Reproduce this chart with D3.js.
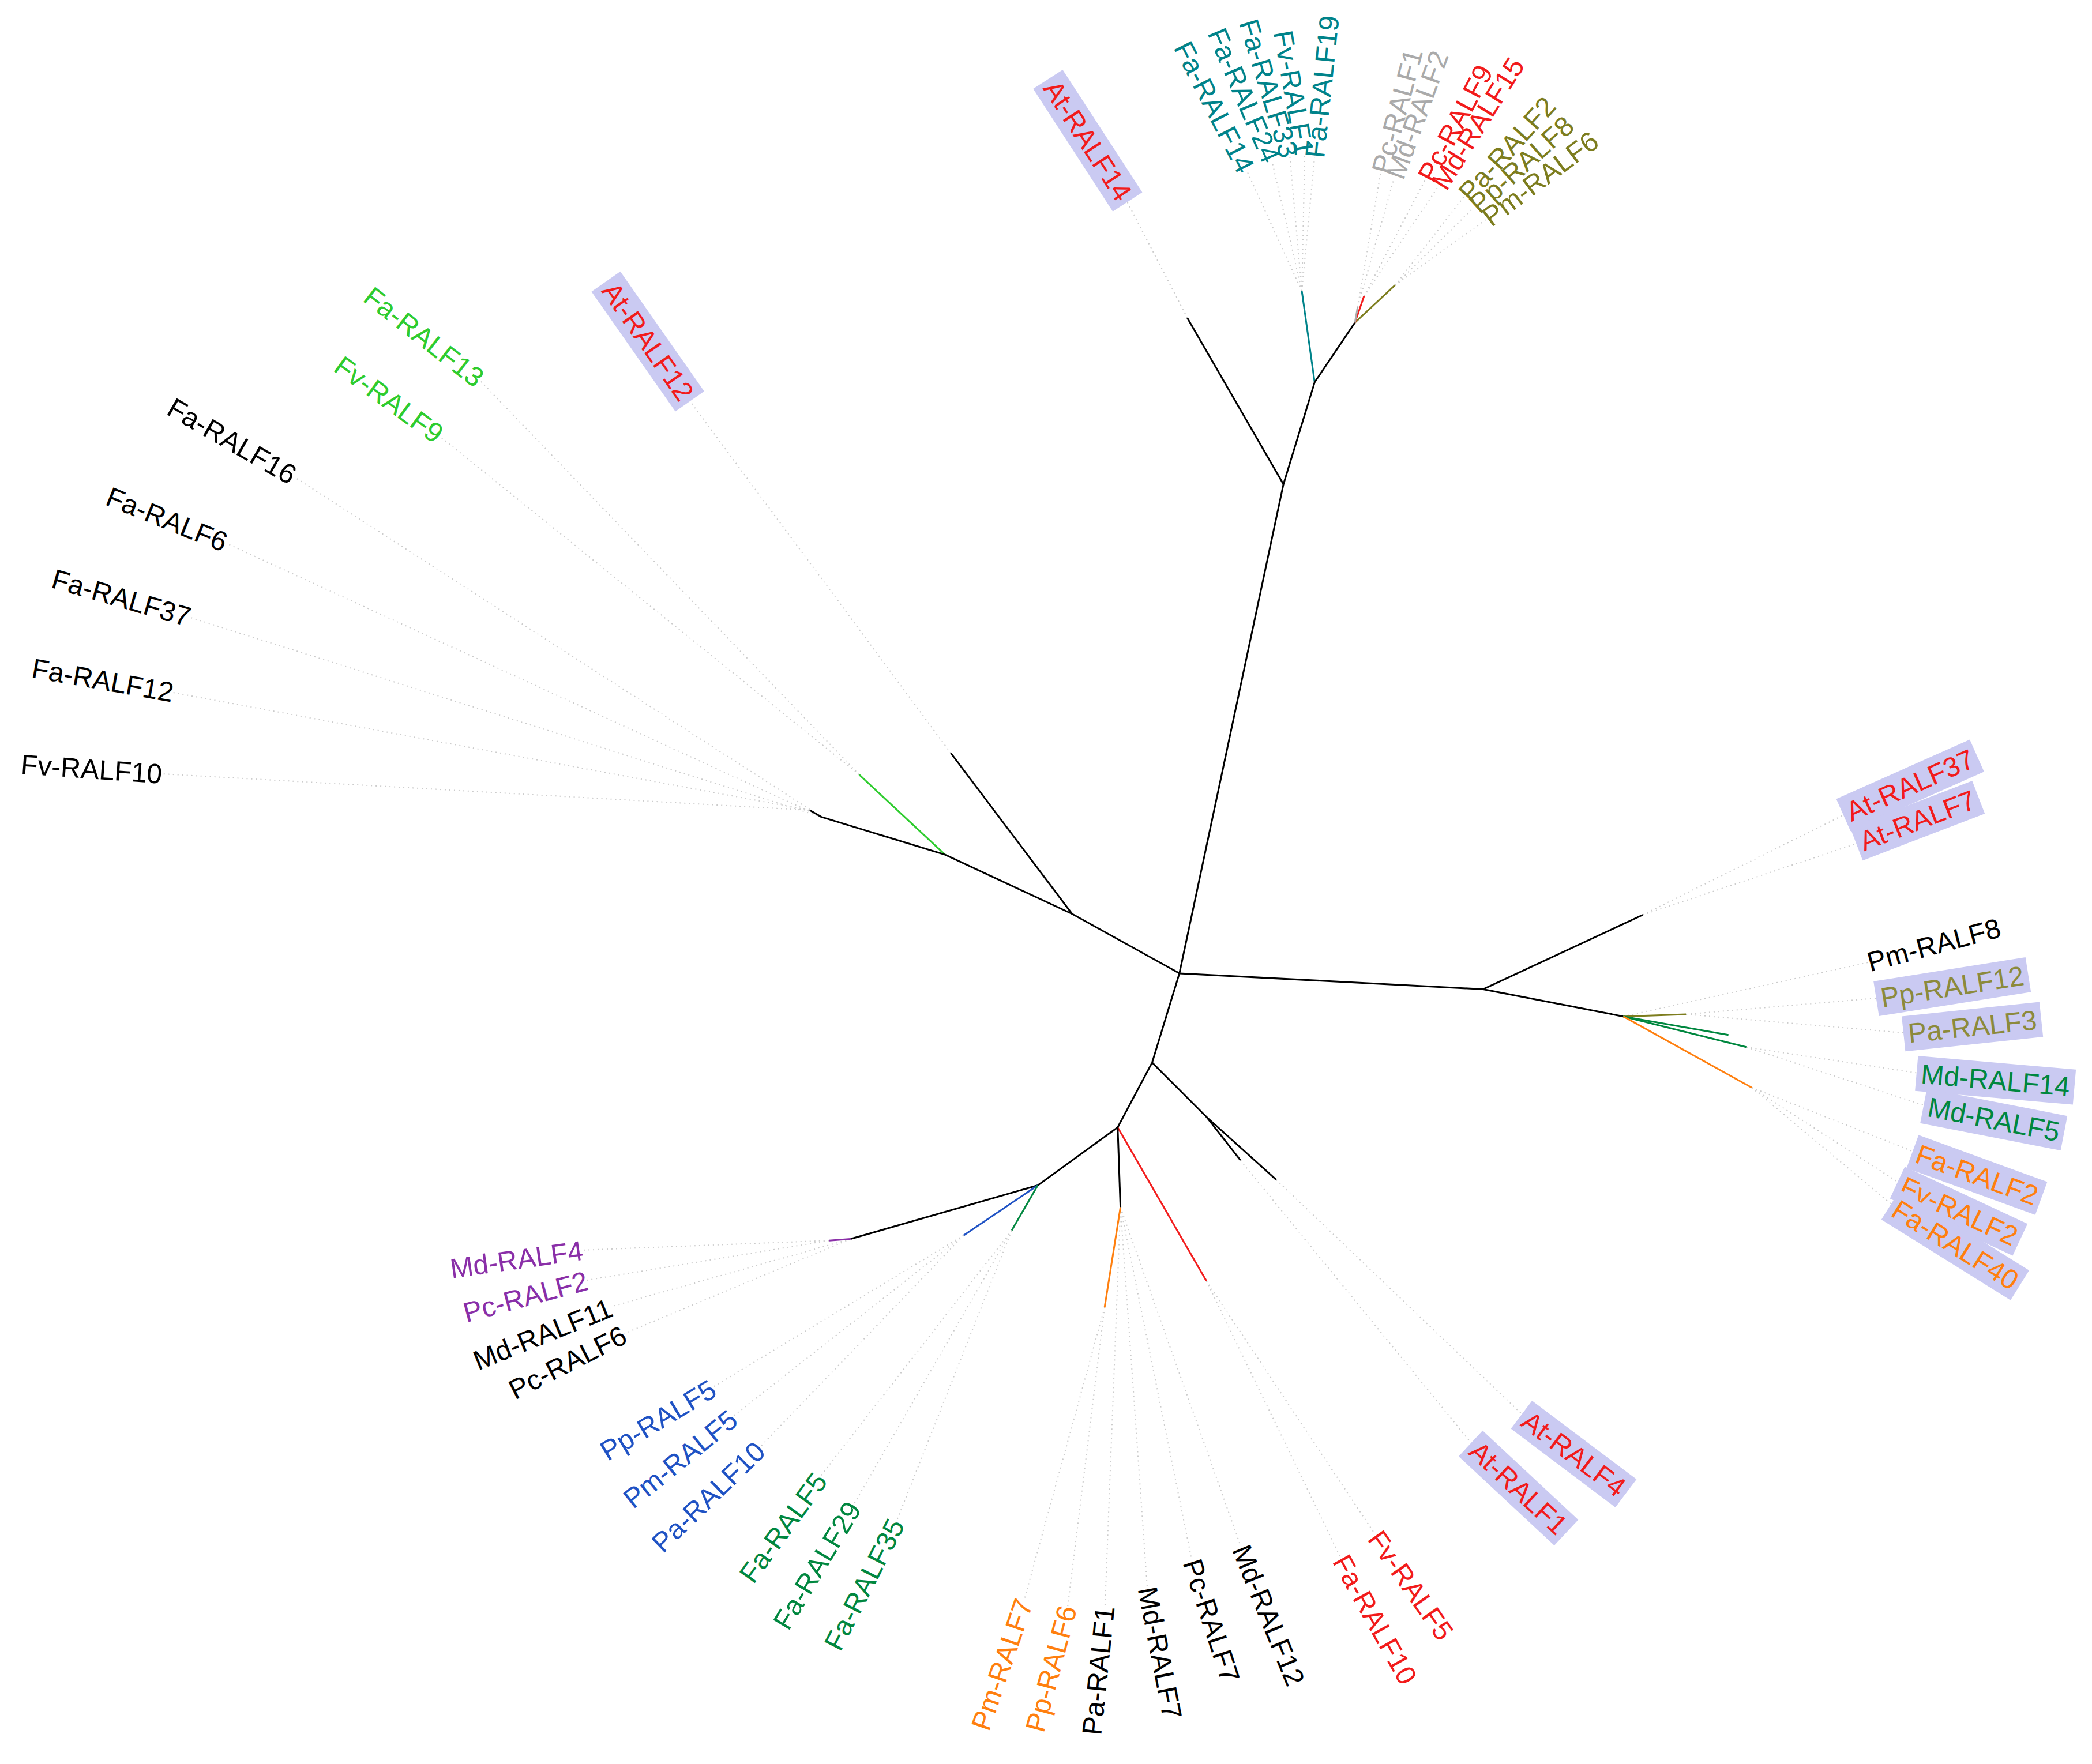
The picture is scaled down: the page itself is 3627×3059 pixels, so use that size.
<!DOCTYPE html>
<html lang="en">
<head>
<meta charset="UTF-8">
<title>RALF tree</title>
<script src="https://d3js.org/d3.v7.min.js"></script>
<style>
  body { margin: 0; background: #fff; }
  .lab { font: 48px "Liberation Sans", Arial, sans-serif; }
</style>
</head>
<body>
<svg width="3627" height="3059"></svg>
<script>
    // colours used in the picture
    const C = {
        k: "#000", red: "#f21b1b", teal: "#00838a", grey: "#aaaaaa", olive: "#7d7d1e",
        lime: "#2ecc2e", dgreen: "#00873f", orange: "#ff7f0e", blue: "#1f52c4", purple: "#8a2fa8"
    };

    // branches: [node, parent, length, angle(deg), colour]
    const edges = [
        ["n1", "R", 375, -78, "k"], ["a14", "n1", 144, -120, "k"], ["n2", "n1", 80, -73, "k"],
        ["tealT", "n2", 69, -98, "teal"], ["n3", "n2", 54, -56, "k"], ["olT", "n3", 41, -43, "olive"],
        ["redT", "n3", 21, -71, "red"], ["greyT", "n3", 12, -80, "grey"],
        ["n4", "R", 92, -151, "k"], ["a12", "n4", 151, -127, "k"], ["n5", "n4", 105, -155, "k"],
        ["limeT", "n5", 88, -137, "lime"], ["n6", "n5", 97, -163, "k"], ["n6b", "n6", 10, -150, "k"],
        ["n7", "R", 228, 3, "k"], ["a37", "n7", 132, -25, "k"], ["n8", "n7", 107, 11, "k"],
        ["olR", "n8", 47, -2, "olive"], ["grR", "n8", 95, 14, "dgreen"], ["grR2", "n8", 80, 10, "dgreen"],
        ["orR", "n8", 110, 29, "orange"],
        ["n9", "R", 70, 107, "k"], ["n10", "n9", 58, 45, "k"], ["a4", "n10", 70, 42, "k"], ["a1", "n10", 41, 52, "k"],
        ["n11", "n9", 55, 118, "k"], ["n12", "n11", 74, 144, "k"], ["n13", "n12", 146, 164, "k"],
        ["puT", "n13", 16, 176, "purple"], ["blT", "n12", 67, 146, "blue"], ["gbT", "n12", 39, 120, "dgreen"],
        ["redB", "n11", 133, 60, "red"], ["n14", "n11", 60, 88, "k"], ["orB", "n14", 76, 99, "orange"]
    ];

    // labels: [name, colour, highlighted, leaf node, angle, radius, text rotation, anchor]
    const labels = [
        ["Fv-RALF10", "k", 0, "n6b", -168.9, 777, 4, "end"],
        ["Fa-RALF12", "k", 0, "n6b", -164.4, 783, 10, "end"],
        ["Fa-RALF37", "k", 0, "n6", -160.2, 788, 16, "end"],
        ["Fa-RALF6", "k", 0, "n6", -155.7, 784, 22, "end"],
        ["Fa-RALF16", "k", 0, "n6", -150.7, 761, 30, "end"],
        ["Fv-RALF9", "lime", 0, "limeT", -144.0, 685, 36, "end"],
        ["Fa-RALF13", "lime", 0, "limeT", -139.7, 687, 38, "end"],
        ["At-RALF12", "red", 1, "a12", -130.5, 568, 55, "end"],
        ["At-RALF14", "red", 1, "a14", -94.0, 583, 57, "end"],
        ["Fa-RALF14", "teal", 0, "tealT", -85.2, 604, 63, "end"],
        ["Fa-RALF24", "teal", 0, "tealT", -83.5, 613, 67, "end"],
        ["Fa-RALF33", "teal", 0, "tealT", -82.3, 618, 73, "end"],
        ["Fv-RALF1", "teal", 0, "tealT", -81.3, 621, 80, "end"],
        ["Fa-RALF19", "teal", 0, "tealT", -80.6, 620, -84, "start"],
        ["Pc-RALF1", "grey", 0, "greyT", -75.9, 619, -75, "start"],
        ["Md-RALF2", "grey", 0, "greyT", -74.9, 618, -70, "start"],
        ["Pc-RALF9", "red", 0, "redT", -72.8, 623, -62, "start"],
        ["Md-RALF15", "red", 0, "redT", -71.8, 621, -58, "start"],
        ["Pa-RALF2", "olive", 0, "olT", -69.9, 620, -48, "start"],
        ["Pp-RALF8", "olive", 0, "olT", -69.0, 615, -42, "start"],
        ["Pm-RALF6", "olive", 0, "olT", -67.9, 610, -37, "start"],
        ["At-RALF37", "red", 1, "a37", -13.5, 515, -24, "start"],
        ["At-RALF7", "red", 1, "a37", -10.9, 520, -21, "start"],
        ["Pm-RALF8", "k", 0, "n8", -0.9, 516, -15, "start"],
        ["Pp-RALF12", "olive", 1, "olR", 2.0, 526, -9, "start"],
        ["Pa-RALF3", "olive", 1, "olR", 4.7, 548, -6, "start"],
        ["Md-RALF14", "dgreen", 1, "grR", 7.7, 561, 5, "start"],
        ["Md-RALF5", "dgreen", 1, "grR", 10.1, 570, 11, "start"],
        ["Fa-RALF2", "orange", 1, "orR", 13.7, 569, 20, "start"],
        ["Fv-RALF2", "orange", 1, "orR", 16.3, 564, 25, "start"],
        ["Fa-RALF40", "orange", 1, "orR", 18.1, 564, 32, "start"],
        ["At-RALF4", "red", 1, "a4", 52.1, 422, 37, "start"],
        ["At-RALF1", "red", 1, "a1", 58.1, 418, 43, "start"],
        ["Fv-RALF5", "red", 0, "redB", 70.8, 445, 55, "start"],
        ["Fa-RALF10", "red", 0, "redB", 74.6, 454, 61, "start"],
        ["Md-RALF12", "k", 0, "n14", 83.9, 432, 68, "start"],
        ["Pc-RALF7", "k", 0, "n14", 88.8, 440, 72, "start"],
        ["Md-RALF7", "k", 0, "n14", 93.0, 461, 79, "start"],
        ["Pa-RALF1", "k", 0, "n14", 96.7, 478, -84, "end"],
        ["Pp-RALF6", "orange", 0, "orB", 100.0, 482, -75, "end"],
        ["Pm-RALF7", "orange", 0, "orB", 103.9, 484, -71, "end"],
        ["Fa-RALF35", "dgreen", 0, "gbT", 117.3, 462, -63, "end"],
        ["Fa-RALF29", "dgreen", 0, "gbT", 121.5, 467, -59, "end"],
        ["Fa-RALF5", "dgreen", 0, "gbT", 125.5, 463, -54, "end"],
        ["Pa-RALF10", "blue", 0, "blT", 131.5, 474, -44, "end"],
        ["Pm-RALF5", "blue", 0, "blT", 135.2, 471, -39, "end"],
        ["Pp-RALF5", "blue", 0, "blT", 138.4, 467, -31, "end"],
        ["Pc-RALF6", "k", 0, "n13", 147.0, 496, -27, "end"],
        ["Md-RALF11", "k", 0, "n13", 149.6, 494, -22, "end"],
        ["Pc-RALF2", "purple", 0, "puT", 152.6, 500, -15, "end"],
        ["Md-RALF4", "purple", 0, "puT", 155.1, 493, -8, "end"]
    ];

    // picture units -> page pixels
    const x = d3.scaleLinear().domain([0, 1568]).range([0, 3627]);
    const y = d3.scaleLinear().domain([0, 1323]).range([0, 3059]);
    const root = { x: 884, y: 730 };
    const rad = d => d * Math.PI / 180;
    const polar = (p, len, ang) => ({ x: p.x + len * Math.cos(rad(ang)), y: p.y + len * Math.sin(rad(ang)) });

    const pos = { R: root };
    edges.forEach(([id, par, len, ang]) => { pos[id] = polar(pos[par], len, ang); });

    const svg = d3.select("svg");
    const gDots = svg.append("g"), gTree = svg.append("g"), gLab = svg.append("g");

    // dotted leaders from leaves to labels
    gDots.selectAll("line").data(labels).join("line")
        .attr("x1", d => x(pos[d[3]].x)).attr("y1", d => y(pos[d[3]].y))
        .attr("x2", d => x(polar(root, d[5], d[4]).x)).attr("y2", d => y(polar(root, d[5], d[4]).y))
        .attr("stroke", "#cccccc").attr("stroke-width", 2).attr("stroke-dasharray", "2,6");

    // branches
    gTree.selectAll("line").data(edges).join("line")
        .attr("x1", d => x(pos[d[1]].x)).attr("y1", d => y(pos[d[1]].y))
        .attr("x2", d => x(pos[d[0]].x)).attr("y2", d => y(pos[d[0]].y))
        .attr("stroke", d => C[d[4]]).attr("stroke-width", 3);

    // labels
    const lg = gLab.selectAll("g").data(labels).join("g")
        .attr("transform", d => {
            const p = polar(root, d[5], d[4]);
            return `translate(${x(p.x)},${y(p.y)}) rotate(${d[6]})`;
        });
    lg.append("text").attr("class", "lab")
        .attr("text-anchor", d => d[7]).attr("dy", "0.35em")
        .attr("fill", d => d[2] && d[1] === "olive" ? "#8c8a3c" : C[d[1]])
        .text(d => d[0]);
    lg.filter(d => d[2]).each(function () {
        const b = d3.select(this).select("text").node().getBBox();
        d3.select(this).insert("rect", "text")
            .attr("x", b.x - 8).attr("y", b.y - 4).attr("width", b.width + 16).attr("height", b.height + 8)
            .attr("fill", "#cacaf2");
    });
</script>
</body>
</html>
